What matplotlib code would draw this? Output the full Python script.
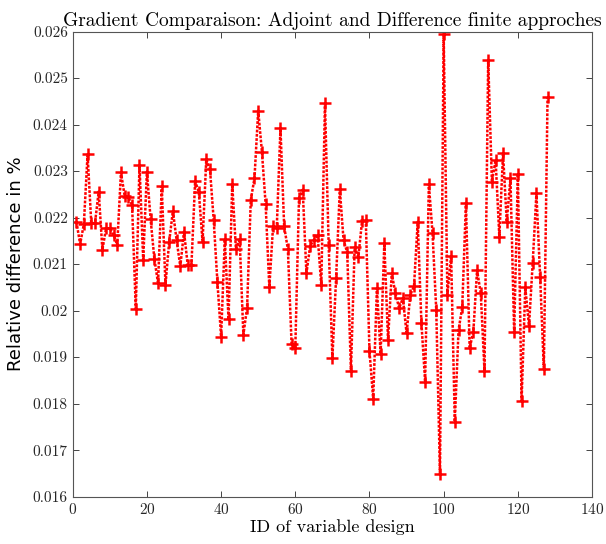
import numpy as np
import matplotlib
matplotlib.use('Agg')
import matplotlib.pyplot as plt

# ID of variable design: 1..128
ids = list(range(1, 129))

rel_diff = [
    0.02191, 0.02143, 0.02186, 0.02336, 0.02188, 0.02188, 0.02256, 0.02131,
    0.02177, 0.02177, 0.02163, 0.02141, 0.02297, 0.02247, 0.02244, 0.02227,
    0.02004, 0.02313, 0.02109, 0.02299, 0.02196, 0.02112, 0.02059, 0.02267,
    0.02055, 0.02148, 0.02214, 0.02152, 0.02095, 0.02170, 0.02098, 0.02098,
    0.02279, 0.02254, 0.02148, 0.02325, 0.02304, 0.02195, 0.02062, 0.01944,
    0.02154, 0.01981, 0.02272, 0.02132, 0.02154, 0.01948, 0.02006, 0.02238,
    0.02285, 0.02430, 0.02342, 0.02229, 0.02050, 0.02181, 0.02177, 0.02392,
    0.02181, 0.02132, 0.01928, 0.01919, 0.02242, 0.02260, 0.02080, 0.02139,
    0.02152, 0.02163, 0.02055, 0.02446, 0.02141, 0.01898, 0.02070, 0.02261,
    0.02152, 0.02125, 0.01871, 0.02136, 0.02115, 0.02193, 0.02195, 0.01913,
    0.01810, 0.02048, 0.01907, 0.02145, 0.01937, 0.02080, 0.02037, 0.02005,
    0.02027, 0.01951, 0.02034, 0.02052, 0.02191, 0.01973, 0.01847, 0.02272,
    0.02166, 0.02001, 0.01649, 0.02595, 0.02034, 0.02118, 0.01761, 0.01958,
    0.02007, 0.02232, 0.01919, 0.01955, 0.02087, 0.02037, 0.01871, 0.02539,
    0.02277, 0.02324, 0.02159, 0.02338, 0.02191, 0.02285, 0.01953, 0.02294,
    0.01806, 0.02050, 0.01967, 0.02103, 0.02252, 0.02073, 0.01875, 0.02459,
]

xticks = [0, 20, 40, 60, 80, 100, 120, 140]
yticks = [0.016, 0.017, 0.018, 0.019, 0.020, 0.021, 0.022, 0.023, 0.024, 0.025, 0.026]
ytick_labels = ['0.016', '0.017', '0.018', '0.019', '0.02', '0.021', '0.022',
                '0.023', '0.024', '0.025', '0.026']

plt.rcParams['font.family'] = 'cmr10'
plt.rcParams['mathtext.fontset'] = 'cm'
plt.rcParams['axes.formatter.use_mathtext'] = True

fig = plt.figure(figsize=(6.06, 5.44), dpi=100)
ax = fig.add_axes([0.12, 0.087, 0.857, 0.855])

line, = ax.plot(ids, rel_diff, color='red', linewidth=1.8,
                marker='+', markersize=8, markeredgewidth=1.8)
line.set_dashes([1.1, 0.6])

ax.set_xlim(0, 140)
ax.set_ylim(0.016, 0.026)
ax.set_xticks(xticks)
ax.set_yticks(yticks)
ax.set_yticklabels(ytick_labels)
ax.tick_params(direction='in', top=True, right=True, labelsize=11,
               colors='#262626', length=4, width=0.6)
for s in ax.spines.values():
    s.set_color('#555555')
    s.set_linewidth(0.8)

ax.set_title('Gradient Comparaison: Adjoint and Difference finite approches',
             fontsize=14, pad=4)
ax.set_xlabel('ID of variable design', fontsize=13, labelpad=2)
ax.set_ylabel('Relative difference in %', fontsize=13, family='DejaVu Sans',
              labelpad=6)

fig.savefig('out.png', dpi=100)
